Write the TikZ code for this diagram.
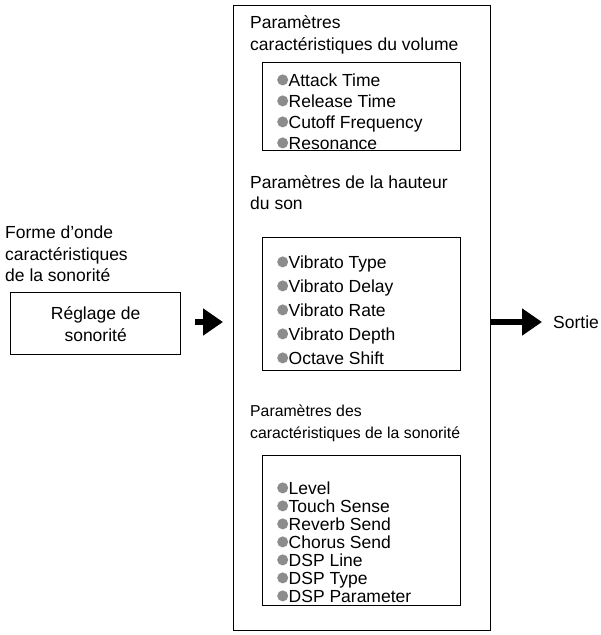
\documentclass[tikz,border=0pt]{standalone}
\usepackage{fontspec}
\setmainfont{Liberation Sans}
\usetikzlibrary{arrows.meta}
\begin{document}
\begin{tikzpicture}[x=1pt,y=-1pt,
  box/.style={draw,line width=1.3pt},
  lbl/.style={anchor=base west,inner sep=0,font=\fontsize{17.5}{21}\selectfont,align=left},
  sml/.style={anchor=base west,inner sep=0,font=\fontsize{15.8}{21}\selectfont,align=left},
  big/.style={-{Triangle[length=20pt,width=26pt]},line width=6.5pt}]
\useasboundingbox (0,0) rectangle (601,635);
\newcommand{\bul}{{\color{gray!90}\raisebox{0.6pt}{\tikz\fill (0,0) circle (5.5pt);}}}
\node[box,minimum width=257,minimum height=625,anchor=north west] (main) at (233,5) {};
\node[box,minimum width=198,minimum height=88,anchor=north west] (b1) at (262,62) {};
\node[box,minimum width=198,minimum height=133,anchor=north west] (b2) at (262,237) {};
\node[box,minimum width=198,minimum height=150,anchor=north west] (b3) at (262,455) {};
\node[lbl] (t1) at (250,28) {Paramètres};
\node[lbl] (t1b) at (250,50) {caractéristiques du volume};
\node[lbl] (t2) at (250,188) {Paramètres de la hauteur};
\node[lbl] (t2b) at (250,209) {du son};
\node[sml] (t3) at (250,416) {Paramètres des};
\node[sml] (t3b) at (250,438) {caractéristiques de la sonorité};
\foreach \t/\y [count=\i] in {Attack Time/86,Release Time/107,Cutoff Frequency/128,Resonance/149}
  \node[lbl] (a\i) at (277,\y) {\bul\hspace{0.5pt}\t};
\foreach \t/\y [count=\i] in {Vibrato Type/268,Vibrato Delay/292,Vibrato Rate/316,Vibrato Depth/340,Octave Shift/364}
  \node[lbl] (v\i) at (277,\y) {\bul\hspace{0.5pt}\t};
\foreach \t/\y [count=\i] in {Level/494,Touch Sense/512,Reverb Send/530,Chorus Send/548,DSP Line/566,DSP Type/584,DSP Parameter/602}
  \node[lbl] (d\i) at (277,\y) {\bul\hspace{0.5pt}\t};
\node[lbl] (f1) at (5,238) {Forme d’onde};
\node[lbl] (f2) at (5,260) {caractéristiques};
\node[lbl] (f3) at (5,281) {de la sonorité};
\node[box,minimum width=170,minimum height=62,anchor=north west,align=center,font=\fontsize{17.5}{22}\selectfont] (reg) at (10,292) {Réglage de\\sonorité};
\coordinate (mainL) at (233,322);
\coordinate (outE) at (542,322);
\draw[big] (reg.east|-mainL) ++(14,0) -- ([xshift=-10pt]mainL);
\draw[big] (main.east|-mainL) -- (outE);
\node[lbl,anchor=west] (sortie) at (553,322) {Sortie};
\end{tikzpicture}
\end{document}
